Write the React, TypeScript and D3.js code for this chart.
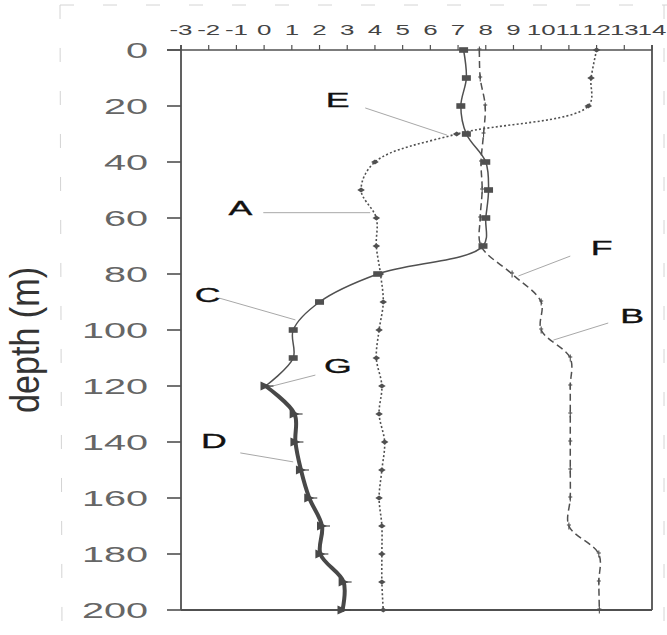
import React from 'react';
import * as d3 from 'd3';

const WIDTH = 667;
const HEIGHT = 635;

// Depth samples (m) shared by the full-length profiles
const depthsFull = [0, 10, 20, 30, 40, 50, 60, 70, 80, 90, 100, 110, 120, 130, 140, 150, 160, 170, 180, 190, 200];

// Dotted profile with diamond markers (labelled E and A)
const valuesDotted = [12.0, 11.8, 11.7, 6.95, 4.0, 3.5, 4.05, 4.05, 4.2, 4.3, 4.15, 4.05, 4.25, 4.15, 4.35, 4.25, 4.15, 4.25, 4.25, 4.25, 4.3];

// Dashed profile with cross markers (labelled F and B)
const valuesDashed = [7.77, 7.8, 7.98, 7.92, 7.83, 7.87, 7.8, 7.83, 8.95, 10.0, 10.0, 11.05, 11.05, 11.05, 11.05, 11.05, 11.05, 11.0, 12.08, 12.08, 12.1];

// Thin solid profile with square markers (labelled C), 0–120 m
const depthsSolid = [0, 10, 20, 30, 40, 50, 60, 70, 80, 90, 100, 110, 120];
const valuesSolid = [7.2, 7.3, 7.1, 7.3, 8.0, 8.1, 8.0, 7.9, 4.1, 2.0, 1.05, 1.05, 0.05];

// Heavy solid profile with triangle markers (labelled D), 120–200 m
const depthsHeavy = [120, 130, 140, 150, 160, 170, 180, 190, 200];
const valuesHeavy = [0.05, 1.1, 1.13, 1.33, 1.63, 2.09, 2.03, 2.87, 2.83];

// Axis ticks
const xTicks = [-3, -2, -1, 0, 1, 2, 3, 4, 5, 6, 7, 8, 9, 10, 11, 12, 13, 14];
const yTicks = [0, 20, 40, 60, 80, 100, 120, 140, 160, 180, 200];

// Curve labels: leader runs from tail to tip (data units), text offset from tail (px)
const annotations = [
  { text: 'E', tip: [6.6, 30.4], tail: [3.65, 20.7], dx: -27.5, dy: -0.5 },
  { text: 'A', tip: [3.83, 58.1], tail: [-0.03, 58.1], dx: -23, dy: 2.3 },
  { text: 'F', tip: [9.18, 80.7], tail: [11.05, 73.6], dx: 31.5, dy: -1 },
  { text: 'B', tip: [10.44, 103.6], tail: [12.42, 97.5], dx: 24, dy: 0 },
  { text: 'C', tip: [1.13, 96.4], tail: [-1.62, 88.6], dx: -11.5, dy: 4 },
  { text: 'G', tip: [0.15, 120.4], tail: [1.85, 116.1], dx: 22.5, dy: -2 },
  { text: 'D', tip: [1.05, 147.1], tail: [-0.86, 143.9], dx: -26.5, dy: -5 },
];

const FONT = '"Liberation Sans", Arial, Helvetica, sans-serif';
const INK = '#505050';

type Pt = [number, number];

const zip = (vals: number[], depths: number[]): Pt[] => depths.map((d, i) => [vals[i], d]);

function WideText(props: {
  x: number;
  y: number;
  sx: number;
  size: number;
  anchor?: string;
  fill?: string;
  stroke?: string;
  children: React.ReactNode;
}) {
  const { x, y, sx, size, anchor = 'middle', fill = '#333', stroke, children } = props;
  return (
    <text
      transform={`translate(${x},${y}) scale(${sx},1)`}
      textAnchor={anchor}
      fontFamily={FONT}
      fontSize={size}
      fill={fill}
      stroke={stroke}
      strokeWidth={stroke ? 0.35 : 0}
    >
      {children}
    </text>
  );
}

export default function App() {
  const x = d3.scaleLinear().domain([-3, 14]).range([181, 652]);
  const y = d3.scaleLinear().domain([0, 200]).range([50, 610]);

  const line = d3
    .line<Pt>()
    .x((d) => x(d[0]))
    .y((d) => y(d[1]))
    .curve(d3.curveCatmullRom.alpha(0.5));

  const dotted = zip(valuesDotted, depthsFull);
  const dashed = zip(valuesDashed, depthsFull);
  const solid = zip(valuesSolid, depthsSolid);
  const heavy = zip(valuesHeavy, depthsHeavy);

  const left = x(-3);
  const right = x(14);
  const top = y(0);
  const bottom = y(200);

  return (
    <svg
      width={WIDTH}
      height={HEIGHT}
      viewBox={`0 0 ${WIDTH} ${HEIGHT}`}
      style={{ position: 'absolute', left: 0, top: 0, background: '#fff' }}
    >
      {/* faint figure frame */}
      <g stroke="#d4d4d4" strokeWidth={1} strokeDasharray="14 29" fill="none">
        <line x1={60} y1={5} x2={WIDTH} y2={5} />
        <line x1={60} y1={5} x2={62} y2={HEIGHT} />
        <line x1={664} y1={5} x2={664} y2={HEIGHT} />
      </g>

      {/* plot box */}
      <g stroke={INK} fill="none">
        <line x1={167} y1={top} x2={right} y2={top} strokeWidth={1.6} />
        <line x1={left} y1={top - 5} x2={left} y2={bottom} strokeWidth={1.8} />
        <line x1={right} y1={top - 5} x2={right} y2={bottom} strokeWidth={1.8} />
        <line x1={left} y1={bottom} x2={right} y2={bottom} strokeWidth={1.8} />
      </g>

      {/* top axis */}
      <g>
        {xTicks.map((t) => (
          <g key={t}>
            <line x1={x(t)} x2={x(t)} y1={top} y2={top - 5} stroke={INK} strokeWidth={1.2} />
            <WideText x={x(t)} y={35} sx={1.85} size={14} fill="#444">
              {String(t)}
            </WideText>
          </g>
        ))}
      </g>

      {/* depth axis */}
      <g>
        {yTicks.map((t) => (
          <g key={t}>
            <line x1={167} x2={left} y1={y(t)} y2={y(t)} stroke={INK} strokeWidth={1.6} />
            <WideText x={148} y={y(t) + 8} sx={1.8} size={22} anchor="end" fill="#666">
              {String(t)}
            </WideText>
          </g>
        ))}
        <text
          transform={`translate(39,340) scale(1.7,1) rotate(-90)`}
          textAnchor="middle"
          fontFamily={FONT}
          fontSize={23.5}
          fill="#333"
          textLength={146}
          lengthAdjust="spacingAndGlyphs"
        >
          depth (m)
        </text>
      </g>

      {/* leader lines */}
      <g stroke="#a8a8a8" strokeWidth={1}>
        {annotations.map((a) => (
          <line key={a.text} x1={x(a.tail[0])} y1={y(a.tail[1])} x2={x(a.tip[0])} y2={y(a.tip[1])} />
        ))}
      </g>

      {/* dashed profile */}
      <path d={line(dashed) || ''} fill="none" stroke={INK} strokeWidth={1.5} strokeDasharray="7 4" />
      <g stroke={INK} strokeWidth={1.1}>
        {dashed.map((p, i) => (
          <g key={i}>
            <line x1={x(p[0])} x2={x(p[0])} y1={y(p[1]) - 3.5} y2={y(p[1]) + 3.5} />
            <line x1={x(p[0]) - 2} x2={x(p[0]) + 2} y1={y(p[1]) - 1} y2={y(p[1]) - 1} />
          </g>
        ))}
      </g>

      {/* dotted profile */}
      <path d={line(dotted) || ''} fill="none" stroke={INK} strokeWidth={1.6} strokeDasharray="2 2.2" />
      <g fill={INK}>
        {dotted.map((p, i) => {
          const cx = x(p[0]);
          const cy = y(p[1]);
          return <polygon key={i} points={`${cx - 3.8},${cy} ${cx},${cy - 2.6} ${cx + 3.8},${cy} ${cx},${cy + 2.6}`} />;
        })}
      </g>

      {/* thin solid profile */}
      <path d={line(solid) || ''} fill="none" stroke={INK} strokeWidth={1.5} />
      <g fill={INK}>
        {solid.slice(0, -1).map((p, i) => (
          <rect key={i} x={x(p[0]) - 4.5} y={y(p[1]) - 2.8} width={9} height={5.6} />
        ))}
      </g>

      {/* heavy solid profile */}
      <path d={line(heavy) || ''} fill="none" stroke="#484848" strokeWidth={4} strokeLinecap="round" />
      <g fill="#484848">
        {heavy.map((p, i) => {
          const cx = x(p[0]);
          const cy = y(p[1]);
          return (
            <g key={i}>
              <polygon points={`${cx - 5},${cy - 4.5} ${cx - 5},${cy + 4.5} ${cx + 5},${cy}`} />
              <line x1={cx} x2={cx + 8} y1={cy} y2={cy} stroke="#484848" strokeWidth={1.2} />
            </g>
          );
        })}
      </g>

      {/* curve labels */}
      <g>
        {annotations.map((a) => (
          <WideText
            key={a.text}
            x={x(a.tail[0]) + a.dx}
            y={y(a.tail[1]) + a.dy}
            sx={1.7}
            size={21}
            fill="#111"
            stroke="#111"
          >
            {a.text}
          </WideText>
        ))}
      </g>
    </svg>
  );
}
